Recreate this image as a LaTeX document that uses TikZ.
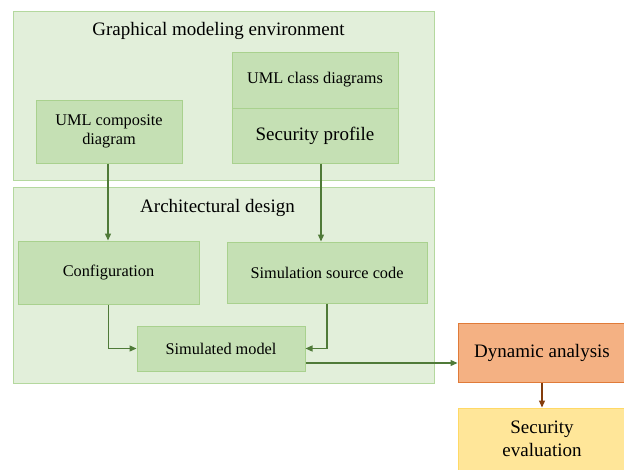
\documentclass[tikz,border=0pt]{standalone}
\usepackage{fontspec}
\setmainfont{Liberation Serif}
\usetikzlibrary{arrows.meta,calc}
\definecolor{outerfill}{HTML}{E2EFDA}
\definecolor{outerdraw}{HTML}{B4D89E}
\definecolor{innerfill}{HTML}{C5E0B4}
\definecolor{innerdraw}{HTML}{A9D18E}
\definecolor{arrgreen}{HTML}{4F7A38}
\definecolor{orfill}{HTML}{F4B183}
\definecolor{ordraw}{HTML}{E07B39}
\definecolor{yelfill}{HTML}{FFE699}
\definecolor{yeldraw}{HTML}{FFD966}
\definecolor{arrbrown}{HTML}{843C0C}
\tikzset{
  outerbox/.style={draw=outerdraw, fill=outerfill, line width=1pt, inner sep=0pt},
  innerbox/.style={draw=innerdraw, fill=innerfill, line width=1pt, inner sep=2pt, align=center, font=\fontsize{16.3}{19}\selectfont},
  titletext/.style={inner sep=0pt, font=\fontsize{19}{23}\selectfont},
  orbox/.style={draw=ordraw, fill=orfill, line width=1pt, align=center, font=\fontsize{19}{23}\selectfont},
  yelbox/.style={draw=yeldraw, fill=yelfill, line width=1pt, align=center, font=\fontsize{19}{23}\selectfont},
  arr/.style={draw=arrgreen, line width=1.3pt, -{Triangle[length=7pt,width=6pt]}},
  arrb/.style={draw=arrbrown, line width=1.3pt, -{Triangle[length=7pt,width=6pt]}},
}
\begin{document}
\begin{tikzpicture}[x=1pt,y=-1pt]
\useasboundingbox (0,0) rectangle (624,469);
\clip (0,0) rectangle (624,469);
\fill[white] (0,0) rectangle (624,469);
% outer containers
\node[outerbox, minimum width=421pt, minimum height=169pt] (gme) at (223.5,95.5) {};
\node[outerbox, minimum width=421pt, minimum height=196pt] (arch) at (223.5,285) {};
\node[titletext, anchor=base] (gmet) at (218.5,35) {Graphical modeling environment};
\node[titletext, anchor=base] (archt) at (217.5,212) {Architectural design};
% inner boxes
\node[innerbox, minimum width=146pt, minimum height=63pt] (comp) at (109,131.5) {UML composite\\diagram};
\node[innerbox, minimum width=166pt, minimum height=56pt] (cls) at (315,80) {UML class diagrams};
\node[innerbox, minimum width=166pt, minimum height=55pt, font=\fontsize{19}{23}\selectfont] (sec) at (315,135.5) {Security profile};
\node[innerbox, minimum width=181pt, minimum height=63pt] (conf) at (108.5,272.5) {Configuration};
\node[innerbox, minimum width=200pt, minimum height=61pt] (src) at (327,272.5) {Simulation source code};
\node[innerbox, minimum width=168pt, minimum height=45pt] (simm) at (221,348.5) {Simulated model};
\node[orbox, minimum width=168pt, minimum height=59pt] (dyn) at (542,352.5) {Dynamic analysis};
\node[yelbox, minimum width=168pt, minimum height=62pt] (eval) at (542,439) {Security\\evaluation};
% connectors
\coordinate (compo) at ($(comp.south)+(-1,0)$);
\coordinate (seco) at ($(sec.south)+(6,0)$);
\draw[arr] (compo) -- (compo |- conf.north);
\draw[arr] (seco) -- (seco |- src.north);
\draw[arr] (conf.south) |- (simm.west);
\draw[arr] (src.south) |- (simm.east);
\coordinate (simo) at ($(simm.east)+(0,14.5)$);
\draw[arr] (simo) -- (simo -| dyn.west);
\draw[arrb] (dyn.south) -- (eval.north);
\end{tikzpicture}
\end{document}
